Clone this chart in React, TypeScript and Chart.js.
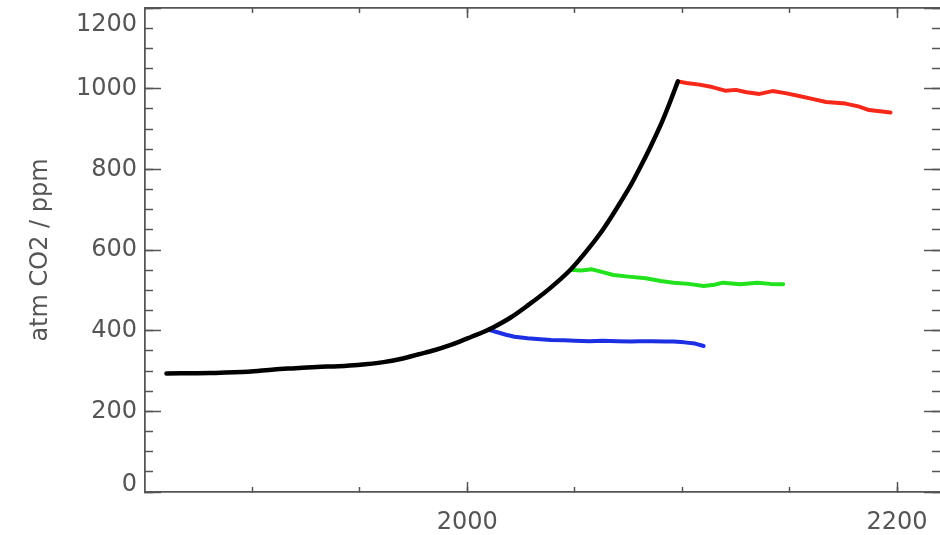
import { useEffect, useRef } from 'react';
import { Chart, registerables } from 'chart.js';

Chart.register(...registerables);

// ---- data ----
const blackYears = [1860, 1880, 1898, 1910, 1920, 1930, 1940, 1949, 1961, 1970, 1977, 1985, 1992, 1997, 2002, 2008, 2012, 2020, 2028, 2038, 2048, 2055, 2062, 2067, 2071, 2076, 2080, 2085, 2090, 2094, 2098];
const blackCO2 = [294, 295, 298, 304, 307, 310, 312, 315, 322, 331, 341, 352, 364, 374, 385, 398, 408, 432, 462, 503, 551, 594, 642, 682, 716, 760, 800, 853, 910, 962, 1018];

const redYears = [2098, 2102, 2108, 2114, 2120, 2125, 2130, 2136, 2142, 2148, 2155, 2161, 2167, 2176, 2182, 2187, 2192, 2197];
const redCO2 = [1018, 1014, 1010, 1004, 995, 997, 991, 987, 994, 989, 981, 974, 967, 963, 956, 947, 944, 941];

const greenYears = [2048, 2053, 2058, 2063, 2068, 2075, 2083, 2090, 2096, 2103, 2110, 2115, 2119, 2123, 2127, 2131, 2135, 2141, 2147];
const greenCO2 = [551, 549, 552, 545, 538, 534, 530, 523, 519, 516, 511, 514, 519, 517, 515, 517, 519, 516, 515];

const blueYears = [2010, 2014, 2018, 2022, 2028, 2034, 2039, 2045, 2050, 2057, 2063, 2070, 2076, 2080, 2086, 2092, 2096, 2101, 2106, 2110];
const blueCO2 = [402, 396, 390, 385, 381, 379, 377, 376, 375, 374, 375, 374, 373, 374, 374, 373, 373, 371, 368, 362];

const xMinorTicks = [1900, 1950, 2000, 2050, 2100, 2150, 2200];
const xMajorTicks = [2000, 2200];
const yMinorTicks = [0, 50, 100, 150, 200, 250, 300, 350, 400, 450, 500, 550, 600, 650, 700, 750, 800, 850, 900, 950, 1000, 1050, 1100, 1150, 1200];
const yMajorTicks = [0, 200, 400, 600, 800, 1000, 1200];

const X_MIN = 1850;
const X_MAX = 2220;
const Y_MIN = 0;
const Y_MAX = 1200;
const Y_TITLE = 'atm CO2 / ppm';

// ---- styling ----
const FONT = 'DejaVu Sans';
const AXIS_COLOR = '#555555';
const TEXT_COLOR = '#555555';

function pts(xs: number[], ys: number[]) {
  return xs.map((x, i) => ({ x, y: ys[i] }));
}

function setTicks(values: number[]) {
  return (scale: any) => {
    scale.ticks = values.map((v) => ({ value: v }));
  };
}

function fixSize(w: number | null, h: number | null) {
  return (scale: any) => {
    if (w !== null) scale.width = w;
    if (h !== null) scale.height = h;
    scale.paddingLeft = 0;
    scale.paddingRight = 0;
    scale.paddingTop = 0;
    scale.paddingBottom = 0;
  };
}

function tickAxis(position: string, min: number, max: number, values: number[], len: number, weight: number, w: number | null, h: number | null, showBorder = true) {
  return {
    type: 'linear',
    position,
    min,
    max,
    weight,
    afterBuildTicks: setTicks(values),
    afterFit: fixSize(w, h),
    grid: {
      display: true,
      drawOnChartArea: false,
      drawTicks: true,
      tickLength: -len,
      tickColor: AXIS_COLOR,
      tickWidth: 1.5,
    },
    border: { display: showBorder, color: AXIS_COLOR, width: 1.5 },
    ticks: { display: false, autoSkip: false },
  } as any;
}

export default function App() {
  const ref = useRef<HTMLCanvasElement | null>(null);

  useEffect(() => {
    if (!ref.current) return;

    const yMajor = tickAxis('left', Y_MIN, Y_MAX, yMajorTicks, 16, 10, 145, null);
    yMajor.ticks = {
      display: true,
      autoSkip: false,
      padding: 24,
      color: TEXT_COLOR,
      callback: (v: number) => (v === 1200 ? ['', '1200'] : v === 0 ? ['0', ''] : String(v)),
      font: (ctx: any) => {
        const val = ctx && ctx.tick ? ctx.tick.value : null;
        return {
          family: FONT,
          size: 24,
          lineHeight: val === 1200 ? '34px' : val === 0 ? '14px' : 1.2,
        };
      },
    };
    yMajor.title = {
      display: true,
      text: Y_TITLE,
      color: TEXT_COLOR,
      font: { family: FONT, size: 24 },
      padding: { top: 26, bottom: 0 },
    };

    const xMajor = tickAxis('bottom', X_MIN, X_MAX, xMajorTicks, 10, 10, null, 43);
    xMajor.ticks = {
      display: true,
      autoSkip: false,
      maxRotation: 0,
      padding: 26,
      color: TEXT_COLOR,
      font: { family: FONT, size: 24 },
      callback: (v: number) => String(v),
    };

    const chart = new Chart(ref.current, {
      type: 'line',
      data: {
        datasets: [
          {
            label: 'emissions',
            data: pts(blackYears, blackCO2),
            borderColor: '#000000',
            borderWidth: 4.5,
            pointRadius: 0,
            cubicInterpolationMode: 'monotone',
            borderCapStyle: 'round',
            borderJoinStyle: 'round',
          },
          {
            label: 'stop 2010',
            data: pts(blueYears, blueCO2),
            borderColor: '#1c2fe2',
            borderWidth: 4,
            pointRadius: 0,
            tension: 0,
            borderCapStyle: 'round',
            borderJoinStyle: 'round',
          },
          {
            label: 'stop 2050',
            data: pts(greenYears, greenCO2),
            borderColor: '#22e21e',
            borderWidth: 4,
            pointRadius: 0,
            tension: 0,
            borderCapStyle: 'round',
            borderJoinStyle: 'round',
          },
          {
            label: 'stop 2100',
            data: pts(redYears, redCO2),
            borderColor: '#f5281a',
            borderWidth: 4,
            pointRadius: 0,
            tension: 0,
            borderCapStyle: 'round',
            borderJoinStyle: 'round',
          },
        ],
      },
      options: {
        animation: false,
        responsive: false,
        devicePixelRatio: 1,
        layout: { padding: { top: 8, left: 0, right: 0, bottom: 0 } },
        plugins: {
          legend: { display: false },
          tooltip: { enabled: false },
        },
        scales: {
          x: tickAxis('bottom', X_MIN, X_MAX, xMinorTicks, 5, 0, null, 0),
          xMajor,
          xTop: tickAxis('top', X_MIN, X_MAX, xMinorTicks, 5, 0, null, 0),
          xTopMajor: tickAxis('top', X_MIN, X_MAX, xMajorTicks, 10, 1, null, 0),
          y: tickAxis('left', Y_MIN, Y_MAX, yMinorTicks, 8, 0, 0, null),
          yMajor,
          yRight: tickAxis('right', Y_MIN, Y_MAX, yMinorTicks, 8, 0, 0, null, false),
          yRightMajor: tickAxis('right', Y_MIN, Y_MAX, yMajorTicks, 16, 1, 0, null, false),
        },
      } as any,
    });

    return () => chart.destroy();
  }, []);

  return (
    <div style={{ position: 'fixed', left: 0, top: 0, width: 940, height: 535, background: '#ffffff' }}>
      <canvas ref={ref} width={940} height={535} style={{ display: 'block', width: 940, height: 535 }} />
    </div>
  );
}
